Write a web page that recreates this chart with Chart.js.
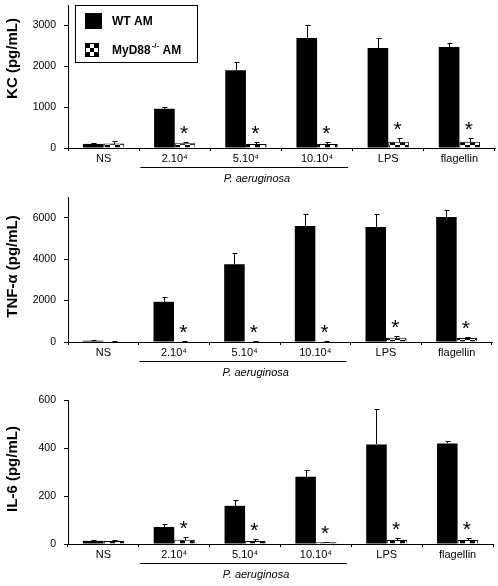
<!DOCTYPE html>
<html><head><meta charset="utf-8">
<script src="https://cdn.jsdelivr.net/npm/chart.js@4/dist/chart.umd.min.js"></script>
<style>
html,body{margin:0;padding:0;background:#fff;width:498px;height:586px;overflow:hidden;position:relative;}
canvas{position:absolute;left:0;}
</style></head><body>
<canvas id="c1" width="498" height="190" style="top:0px"></canvas>
<canvas id="c2" width="498" height="200" style="top:190px"></canvas>
<canvas id="c3" width="498" height="196" style="top:390px"></canvas>
<script>
// ---- data ----
const categories = ['NS', '2.10⁴', '5.10⁴', '10.10⁴', 'LPS', 'flagellin'];
const seriesNames = ['WT AM', 'MyD88'];
const significant = [false, true, true, true, true, true];

const kcWT     = [100, 960, 1900, 2690, 2450, 2470];
const kcWTErr  = [25, 45, 200, 320, 250, 100];
const kcKO     = [110, 115, 100, 100, 155, 155];
const kcKOErr  = [60, 40, 50, 50, 80, 80];
const kcTicks  = [0, 1000, 2000, 3000];

const tnfWT    = [60, 1940, 3750, 5600, 5550, 6030];
const tnfWTErr = [20, 220, 560, 600, 650, 340];
const tnfKO    = [30, 20, 30, 40, 200, 190];
const tnfKOErr = [10, 5, 5, 10, 90, 70];
const tnfTicks = [0, 2000, 4000, 6000];

const il6WT    = [13, 71, 159, 280, 415, 419];
const il6WTErr = [5, 13, 25, 30, 147, 10];
const il6KO    = [12, 18, 12, 7, 17, 17];
const il6KOErr = [5, 10, 8, 3, 10, 10];
const il6Ticks = [0, 200, 400, 600];

const FONT = "'Liberation Sans', Arial, Helvetica, sans-serif";
Chart.defaults.font.family = FONT;
Chart.defaults.color = '#000';

function makePattern(cell) {
  const c = document.createElement('canvas');
  c.width = cell * 2; c.height = cell * 2;
  const g = c.getContext('2d');
  g.fillStyle = '#fff'; g.fillRect(0, 0, c.width, c.height);
  g.fillStyle = '#000';
  g.fillRect(0, 0, cell, cell);
  g.fillRect(cell, cell, cell, cell);
  return g.createPattern(c, 'repeat');
}
const checker = makePattern(5);

const decor = {
  id: 'decor',
  afterDatasetsDraw(chart, args, o) {
    const ctx = chart.ctx, y = chart.scales.y;
    ctx.save();
    ctx.strokeStyle = '#000'; ctx.lineWidth = 1;
    chart.data.datasets.forEach((ds, di) => {
      const meta = chart.getDatasetMeta(di);
      meta.data.forEach((bar, i) => {
        const v = ds.data[i], e = ds.errors[i];
        const yTop = Math.round(y.getPixelForValue(v + e)) + 0.5;
        const bx = Math.round(bar.x) + 0.5;
        ctx.beginPath();
        ctx.moveTo(bx, Math.round(bar.y));
        ctx.lineTo(bx, yTop);
        ctx.moveTo(bx - 2, yTop);
        ctx.lineTo(bx + 3, yTop);
        ctx.stroke();
        if (di === 1 && significant[i]) {
          ctx.fillStyle = '#000';
          ctx.font = '21px ' + FONT;
          ctx.textAlign = 'center';
          ctx.textBaseline = 'alphabetic';
          ctx.fillText('*', bar.x - 1, yTop - 3);
        }
      });
    });
    ctx.restore();
  },
  afterDraw(chart, args, o) {
    const ctx = chart.ctx, x = chart.scales.x, area = chart.chartArea;
    ctx.save();
    // bracket
    const by = Math.round(area.bottom + 19) + 0.5;
    ctx.strokeStyle = '#000'; ctx.lineWidth = 1;
    ctx.beginPath();
    ctx.moveTo(x.getPixelForValue(1) - 34.5, by);
    ctx.lineTo(x.getPixelForValue(3) + 31, by);
    ctx.stroke();
    ctx.fillStyle = '#000';
    ctx.font = 'italic 11px ' + FONT;
    ctx.textAlign = 'center'; ctx.textBaseline = 'middle';
    ctx.fillText('P. aeruginosa', x.getPixelForValue(2) + 11, area.bottom + 31);
    // y title
    ctx.save();
    ctx.translate(13, (area.top + area.bottom) / 2 + o.titleShift);
    ctx.rotate(-Math.PI / 2);
    ctx.font = 'bold 15px ' + FONT;
    ctx.textAlign = 'center'; ctx.textBaseline = 'middle';
    ctx.fillText(o.title, 0, 0);
    ctx.restore();
    // legend
    if (o.legend) {
      ctx.strokeRect(75.5, 5.5, 122, 57);
      ctx.fillRect(85, 13, 17, 16);
      const cs = 12 / 3;
      ctx.fillStyle = '#fff'; ctx.fillRect(86, 44, 12, 12);
      for (let r = 0; r < 3; r++) for (let c = 0; c < 3; c++) {
        ctx.fillStyle = ((r + c) % 2 === 0) ? '#000' : '#fff';
        ctx.fillRect(86 + c * cs, 44 + r * cs, cs, cs);
      }
      ctx.strokeRect(85.5, 43.5, 13, 13);
      ctx.fillStyle = '#000';
      ctx.textAlign = 'left'; ctx.textBaseline = 'middle';
      ctx.font = 'bold 12px ' + FONT;
      ctx.fillText(seriesNames[0], 112, 22);
      ctx.fillText(seriesNames[1], 112, 51);
      let w = ctx.measureText(seriesNames[1]).width;
      ctx.font = 'bold 8px ' + FONT;
      ctx.fillText('-/-', 112 + w + 1, 46);
      let w2 = ctx.measureText('-/-').width;
      ctx.font = 'bold 12px ' + FONT;
      ctx.fillText(' AM', 112 + w + 1 + w2, 51);
    }
    ctx.restore();
  }
};

function makeChart(id, wt, wtErr, ko, koErr, ticks, max, padTop, xHeight, padRight, title, titleShift, legend) {
  return new Chart(document.getElementById(id), {
    type: 'bar',
    data: {
      labels: categories,
      datasets: [
        { data: wt, errors: wtErr, backgroundColor: '#000', borderWidth: 0,
          categoryPercentage: 0.58, barPercentage: 1.0 },
        { data: ko, errors: koErr, backgroundColor: checker, borderColor: '#000', borderWidth: 1,
          categoryPercentage: 0.58, barPercentage: 1.0 }
      ]
    },
    options: {
      responsive: false, animation: false, devicePixelRatio: 1,
      layout: { padding: { top: padTop, left: 0, right: padRight, bottom: 0 } },
      plugins: { legend: { display: false }, tooltip: { enabled: false },
        decor: { title, titleShift, legend } },
      scales: {
        x: {
          grid: { display: true, drawOnChartArea: false, drawTicks: true, tickLength: 3, color: '#000', offset: true },
          border: { display: true, color: '#000', width: 1 },
          ticks: { font: { size: 11, family: FONT }, padding: 1, color: '#000', maxRotation: 0, autoSkip: false },
          afterFit(s) { s.height = xHeight; s.paddingLeft = 0; s.paddingRight = 0; }
        },
        y: {
          min: 0, max: max,
          afterBuildTicks(s) { s.ticks = ticks.map(v => ({ value: v })); },
          grid: { display: true, drawOnChartArea: false, drawTicks: true, tickLength: 4, color: '#000' },
          border: { display: true, color: '#000', width: 1 },
          ticks: { font: { size: 10.5, family: FONT }, padding: 8, color: '#000',
                   callback: v => String(v) },
          afterFit(s) { s.width = 68; s.paddingTop = 0; s.paddingBottom = 0; }
        }
      }
    },
    plugins: [decor]
  });
}

makeChart('c1', kcWT, kcWTErr, kcKO, kcKOErr, kcTicks, 3500, 5, 42, 3, 'KC (pg/mL)', -18, true);
makeChart('c2', tnfWT, tnfWTErr, tnfKO, tnfKOErr, tnfTicks, 7000, 7, 48, 6, 'TNF-α (pg/mL)', -3, false);
makeChart('c3', il6WT, il6WTErr, il6KO, il6KOErr, il6Ticks, 600, 10, 42, 5, 'IL-6 (pg/mL)', -3, false);
</script>
</body></html>
